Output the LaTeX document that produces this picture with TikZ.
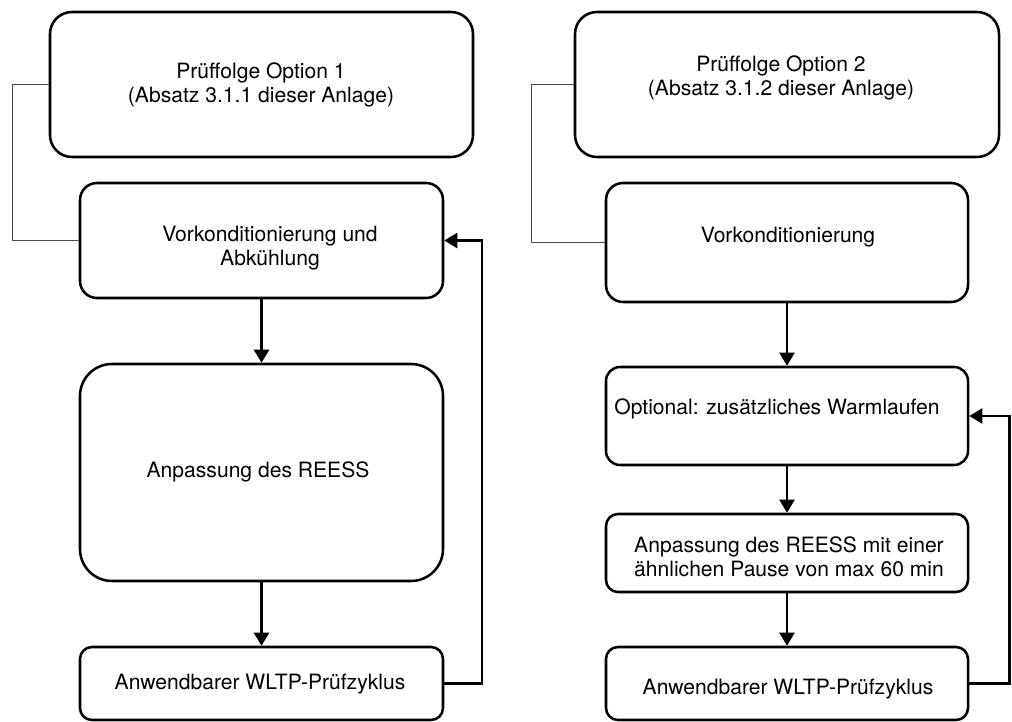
\documentclass[tikz,border=0pt]{standalone}
\usepackage{fontspec}
\setmainfont{TeX Gyre Heros}
\usetikzlibrary{arrows.meta}

\begin{document}
\begin{tikzpicture}[x=0.25mm,y=-0.25mm,font=\fontsize{15}{17}\selectfont,
	box/.style={draw,line width=1.8pt,inner sep=0pt},
	txt/.style={align=center,inner sep=0pt},
	flow/.style={line width=1.8pt,-{Triangle[length=3.3mm,width=3.8mm]}},
	link/.style={line width=0.7pt,draw=black!70}]
	\useasboundingbox (0,0) rectangle (1012,722);

	%option 1 column
	\node[box,minimum width=105.75mm,minimum height=36.25mm,rounded corners=5.5mm] (opt1) at (261.5,84.5) {};
	\node[box,minimum width=90.75mm,minimum height=28.75mm,rounded corners=4.25mm] (pre1) at (261.5,240.5) {};
	\node[box,minimum width=90.75mm,minimum height=54.25mm,rounded corners=8mm] (adj1) at (261.5,472.5) {};
	\node[box,minimum width=90.75mm,minimum height=18.25mm,rounded corners=3mm] (wltp1) at (261.5,683.5) {};

	%option 2 column
	\node[box,minimum width=106mm,minimum height=36.25mm,rounded corners=5.5mm] (opt2) at (787,84.5) {};
	\node[box,minimum width=90.5mm,minimum height=29.75mm,rounded corners=4.25mm] (pre2) at (787,242.5) {};
	\node[box,minimum width=90.5mm,minimum height=24.5mm,rounded corners=3.5mm] (warm2) at (787,416) {};
	\node[box,minimum width=90.5mm,minimum height=19.5mm,rounded corners=3mm] (adj2) at (787,553) {};
	\node[box,minimum width=90.5mm,minimum height=18.25mm,rounded corners=3mm] (wltp2) at (787,683.5) {};

	%labels
	\node[txt] (opt1t) at (261,85) {Prüffolge Option 1\\(Absatz 3.1.1 dieser Anlage)};
	\node[txt] (pre1t) at (270,248) {Vorkonditionierung und\\Abkühlung};
	\node[txt] (adj1t) at (258,472) {Anpassung des REESS};
	\node[txt] (wltp1t) at (260,684) {Anwendbarer WLTP-Prüfzyklus};
	\node[txt] (opt2t) at (781,78) {Prüffolge Option 2\\(Absatz 3.1.2 dieser Anlage)};
	\node[txt] (pre2t) at (788,237) {Vorkonditionierung};
	\node[txt] (warm2t) at (777,409) {Optional: zusätzliches Warmlaufen};
	\node[txt] (adj2t) at (789,557) {Anpassung des REESS mit einer\\ähnlichen Pause von max 60 min};
	\node[txt] (wltp2t) at (788,689) {Anwendbarer WLTP-Prüfzyklus};

	%corner points
	\coordinate (lbrk) at (12,240.5); %thin bracket left
	\coordinate (rbrk) at (531,242.5); %thin bracket right
	\coordinate (lret) at (482,240.5); %loop back left
	\coordinate (rret) at (1009.5,416); %loop back right

	%thin brackets
	\draw[link] (opt1.west) -| (lbrk) -- (pre1.west);
	\draw[link] (opt2.west) -| (rbrk) -- (pre2.west);

	%arrows
	\draw[flow] (pre1) -- (adj1);
	\draw[flow] (adj1) -- (wltp1);
	\draw[flow] (pre2) -- (warm2);
	\draw[flow] (warm2) -- (adj2);
	\draw[flow] (adj2) -- (wltp2);

	%loops
	\draw[flow] (wltp1.east) -| (lret) -- (pre1.east);
	\draw[flow] (wltp2.east) -| (rret) -- (warm2.east);
\end{tikzpicture}
\end{document}
